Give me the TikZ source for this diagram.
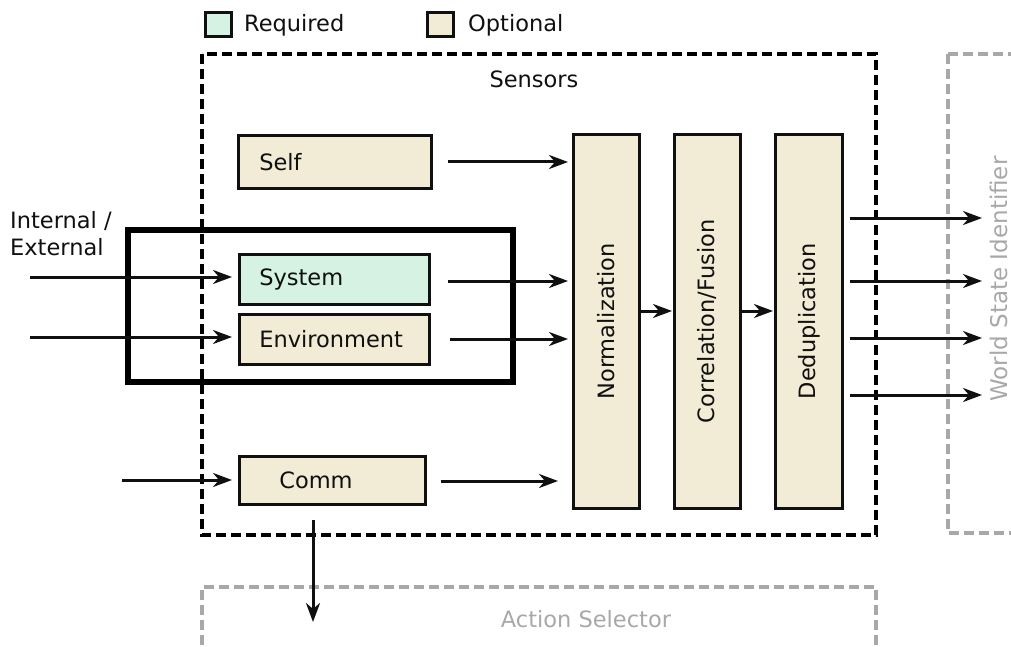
\documentclass[tikz,border=0pt]{standalone}
\usepackage{fontspec}
\setmainfont{DejaVu Sans}
\usetikzlibrary{arrows.meta,calc}
\definecolor{reqfill}{HTML}{D5F2E2}
\definecolor{optfill}{HTML}{F2ECD6}
\definecolor{ghost}{HTML}{A8A8A8}
\definecolor{ink}{HTML}{101010}
\begin{document}
\begin{tikzpicture}[x=1pt,y=-1pt,
  font=\fontsize{22.5}{27}\selectfont,
  box/.style={draw=ink, line width=2.6pt, rectangle, inner ysep=0pt, anchor=north west, text=ink, align=left},
  optbox/.style={box, fill=optfill},
  reqbox/.style={box, fill=reqfill},
  legbox/.style={draw=ink, line width=3pt, rectangle, inner sep=0pt, anchor=north west, minimum width=26pt, minimum height=24pt},
  lbl/.style={text=ink, inner sep=0pt},
  ghostlbl/.style={text=ghost, inner sep=0pt},
  arr/.style={draw=ink, line width=3pt, -{Stealth[length=19pt,width=14pt,inset=6pt]}},
  sensorframe/.style={draw=black, line width=4.2pt, dash pattern=on 10pt off 5pt},
  ghostframe/.style={draw=ghost, line width=4.2pt, dash pattern=on 10pt off 5pt},
  groupframe/.style={draw=black, line width=6pt}
]
\useasboundingbox (0,0) rectangle (1011,647);
\clip (0,0) rectangle (1011,647);

% legend
\node[legbox, fill=reqfill] (legreq) at (203.5,11.5) {};
\node[lbl, anchor=base west] (legreqtxt) at (244,32) {Required};
\node[legbox, fill=optfill] (legopt) at (426,11.5) {};
\node[lbl, anchor=base west] (legopttxt) at (468,32) {Optional};

% frames
\draw[sensorframe] (202,54) rectangle (876,535);
\node[lbl, anchor=base] (senstxt) at (534,88) {Sensors};
\draw[ghostframe] (948,54) -- (1040,54) (948,54) -- (948,533) -- (1040,533);
\draw[ghostframe] (202,660) -- (202,587) -- (876,587) -- (876,660);
\node[ghostlbl, rotate=90, anchor=base, font=\fontsize{23}{27}\selectfont] (wsitxt) at (1007,279) {World State Identifier};
\node[ghostlbl, anchor=base] (astxt) at (586,627) {Action Selector};

% group frame
\draw[groupframe] (127.5,229.5) rectangle (512.5,381.5);

% boxes
\node[optbox, minimum width=193pt, minimum height=53pt, inner xsep=21pt, text width=151pt] (self) at (237,134) {Self};
\node[reqbox, minimum width=190pt, minimum height=50pt, inner xsep=20pt, text width=150pt] (sys) at (238,253) {System};
\node[optbox, minimum width=190pt, minimum height=50pt, inner xsep=20pt, text width=150pt] (env) at (238,313) {Environment};
\node[optbox, minimum width=186pt, minimum height=48pt, inner xsep=40pt, text width=106pt] (comm) at (238,455) {Comm};

\node[optbox, minimum width=66pt, minimum height=374pt, inner sep=0pt] (norm) at (572,133) {};
\node[optbox, minimum width=66pt, minimum height=374pt, inner sep=0pt] (corr) at (673,133) {};
\node[optbox, minimum width=67pt, minimum height=374pt, inner sep=0pt] (dedup) at (774,133) {};
\node[lbl, rotate=90] (normtxt) at (norm.center) {Normalization};
\node[lbl, rotate=90] (corrtxt) at (corr.center) {Correlation/Fusion};
\node[lbl, rotate=90] (deduptxt) at (dedup.center) {Deduplication};

% left labels
\node[lbl, anchor=base west, align=left] (inttxt) at (10,228) {Internal /};
\node[lbl, anchor=base west, align=left] (exttxt) at (10,255) {External};

% coordinates
\coordinate (insys) at (30,277);
\coordinate (inenv) at (30,337);
\coordinate (incomm) at (122,480);
\coordinate (mid) at (0,311);
\coordinate (o1) at (982,218);
\coordinate (o2) at (982,281);
\coordinate (o3) at (982,338);
\coordinate (o4) at (982,395);
\coordinate (down) at (313,622);
\coordinate (selfy) at (0,162);
\coordinate (sysy) at (0,281);
\coordinate (envy) at (0,339);
\coordinate (commy) at (0,481);

% arrows
\draw[arr, shorten >=6pt] (insys) -- (sys.west |- insys);
\draw[arr, shorten >=6pt] (inenv) -- (env.west |- inenv);
\draw[arr, shorten >=6pt] (incomm) -- (comm.west |- incomm);

\draw[arr, shorten <=15pt, shorten >=4pt] (self.east |- selfy) -- (norm.west |- selfy);
\draw[arr, shorten <=17pt, shorten >=4pt] (sys.east |- sysy) -- (norm.west |- sysy);
\draw[arr, shorten <=19pt, shorten >=4pt] (env.east |- envy) -- (norm.west |- envy);
\draw[arr, shorten <=14pt, shorten >=14pt] (comm.east |- commy) -- (norm.west |- commy);

\draw[arr, shorten >=1pt] (norm.east |- mid) -- (corr.west |- mid);
\draw[arr, shorten >=1pt] (corr.east |- mid) -- (dedup.west |- mid);

\draw[arr, shorten <=6pt] (dedup.east |- o1) -- (o1);
\draw[arr, shorten <=6pt] (dedup.east |- o2) -- (o2);
\draw[arr, shorten <=6pt] (dedup.east |- o3) -- (o3);
\draw[arr, shorten <=6pt] (dedup.east |- o4) -- (o4);

\draw[arr, shorten <=14pt] (comm.south -| down) -- (down);
\end{tikzpicture}
\end{document}
